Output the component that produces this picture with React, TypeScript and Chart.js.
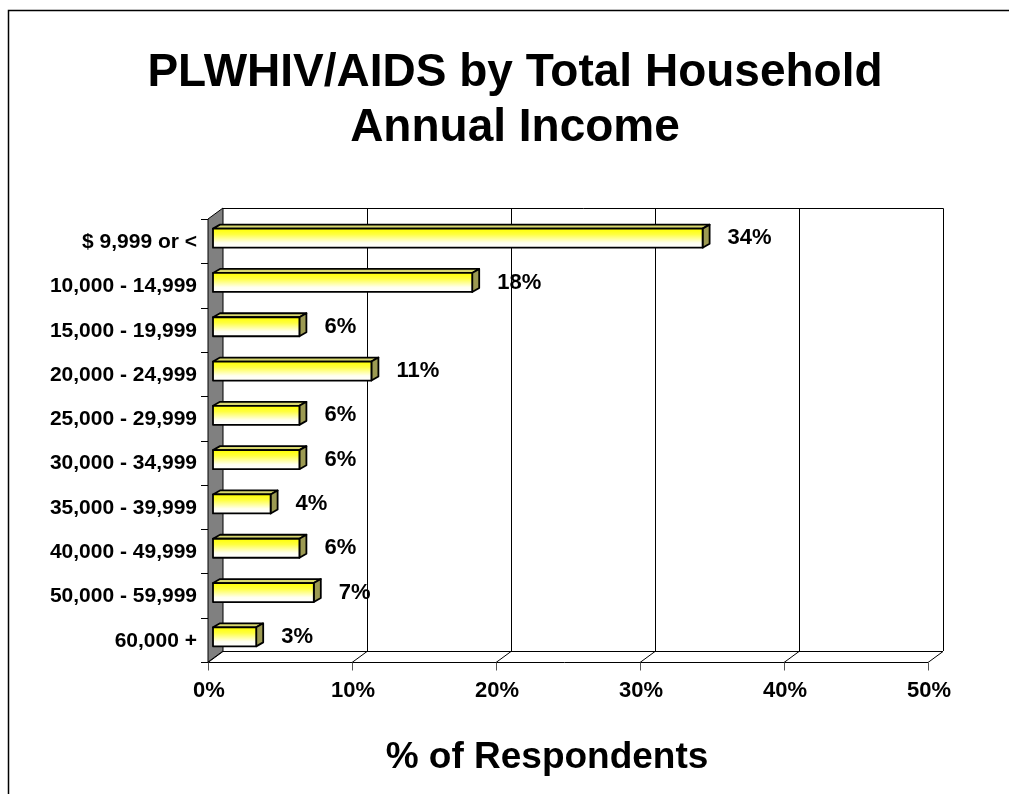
import React, { useEffect, useRef } from "react";
import { Chart, registerables } from "chart.js";

Chart.register(...registerables);

const categories = [
  "$ 9,999 or <",
  "10,000 - 14,999",
  "15,000 - 19,999",
  "20,000 - 24,999",
  "25,000 - 29,999",
  "30,000 - 34,999",
  "35,000 - 39,999",
  "40,000 - 49,999",
  "50,000 - 59,999",
  "60,000 +",
];
const percentValues = [34, 18, 6, 11, 6, 6, 4, 6, 7, 3];
const xTicks = [0, 10, 20, 30, 40, 50];
const xTickLabels = ["0%", "10%", "20%", "30%", "40%", "50%"];
const titleLines = ["PLWHIV/AIDS by Total Household", "Annual Income"];
const xAxisTitle = "% of Respondents";

const FONT = '"Liberation Sans", Arial, sans-serif';
const FRONT = { dx: -5, dy: 3 };
const BACK = { dx: 10, dy: -8 };
const BAR_D = { dx: 7, dy: 4 };

const decorPlugin = {
  id: "decor3d",
  beforeDraw(chart: any) {
    const { ctx, chartArea, scales } = chart;
    const xs = scales.x;
    const ys = scales.y;
    const W = chart.width;
    const H = chart.height;
    ctx.save();
    ctx.fillStyle = "#ffffff";
    ctx.fillRect(0, 0, W, H);
    // outer frame
    ctx.strokeStyle = "#000000";
    ctx.lineWidth = 1.5;
    ctx.beginPath();
    ctx.moveTo(8.5, H);
    ctx.lineTo(8.5, 10.5);
    ctx.lineTo(W, 10.5);
    ctx.stroke();

    const x0 = xs.getPixelForValue(0);
    const xMax = xs.getPixelForValue(50);
    const top = chartArea.top;
    const bottom = chartArea.bottom;

    // back wall
    ctx.lineWidth = 1;
    ctx.strokeStyle = "#000000";
    ctx.beginPath();
    ctx.moveTo(x0 + BACK.dx, top + BACK.dy + 0.5);
    ctx.lineTo(xMax + BACK.dx + 0.5, top + BACK.dy + 0.5);
    ctx.lineTo(xMax + BACK.dx + 0.5, bottom + BACK.dy);
    ctx.stroke();
    xTicks.forEach((t) => {
      if (t === 0 || t === 50) return;
      const px = Math.round(xs.getPixelForValue(t) + BACK.dx) + 0.5;
      ctx.beginPath();
      ctx.moveTo(px, top + BACK.dy);
      ctx.lineTo(px, bottom + BACK.dy);
      ctx.stroke();
    });

    // floor
    const fy = Math.round(bottom + FRONT.dy) + 0.5;
    const by = Math.round(bottom + BACK.dy) + 0.5;
    ctx.beginPath();
    ctx.moveTo(x0 + FRONT.dx - 7, fy);
    ctx.lineTo(xMax + FRONT.dx, fy);
    ctx.moveTo(x0 + BACK.dx, by);
    ctx.lineTo(xMax + BACK.dx, by);
    ctx.stroke();
    xTicks.forEach((t) => {
      const p = xs.getPixelForValue(t);
      ctx.strokeStyle = "#000000";
      ctx.beginPath();
      ctx.moveTo(p + FRONT.dx, fy);
      ctx.lineTo(p + BACK.dx, by);
      ctx.stroke();
      ctx.strokeStyle = "#555555";
      ctx.beginPath();
      ctx.moveTo(Math.round(p + FRONT.dx) + 0.5, fy);
      ctx.lineTo(Math.round(p + FRONT.dx) + 0.5, fy + 8);
      ctx.stroke();
    });

    // left side wall
    ctx.fillStyle = "#808080";
    ctx.strokeStyle = "#000000";
    ctx.beginPath();
    ctx.moveTo(x0 + FRONT.dx, top + FRONT.dy);
    ctx.lineTo(x0 + BACK.dx, top + BACK.dy);
    ctx.lineTo(x0 + BACK.dx, bottom + BACK.dy);
    ctx.lineTo(x0 + FRONT.dx, bottom + FRONT.dy);
    ctx.closePath();
    ctx.fill();
    ctx.stroke();

    // category tick marks
    const step = (bottom - top) / categories.length;
    ctx.strokeStyle = "#000000";
    for (let i = 0; i <= categories.length; i++) {
      const yy = Math.round(top + i * step + FRONT.dy) + 0.5;
      ctx.beginPath();
      ctx.moveTo(x0 + FRONT.dx - 7, yy);
      ctx.lineTo(x0 + FRONT.dx, yy);
      ctx.stroke();
    }

    // title
    ctx.fillStyle = "#000000";
    ctx.textAlign = "center";
    ctx.textBaseline = "middle";
    ctx.font = `bold 46px ${FONT}`;
    ctx.fillText(titleLines[0], 515, 73);
    ctx.fillText(titleLines[1], 515, 128);

    // category labels
    ctx.font = `bold 21px ${FONT}`;
    ctx.textAlign = "right";
    categories.forEach((c, i) => {
      const yy = ys.getPixelForValue(i) + FRONT.dy;
      ctx.fillText(c, x0 + FRONT.dx - 11, yy + 1);
    });

    // x tick labels
    ctx.font = `bold 22px ${FONT}`;
    ctx.textAlign = "center";
    xTicks.forEach((t, i) => {
      ctx.fillText(xTickLabels[i], xs.getPixelForValue(t) + FRONT.dx + 1, 691);
    });

    // axis title
    ctx.font = `bold 37px ${FONT}`;
    ctx.fillText(xAxisTitle, 547, 758);
    ctx.restore();
  },
  afterDatasetsDraw(chart: any) {
    const { ctx } = chart;
    const meta = chart.getDatasetMeta(0);
    ctx.save();
    meta.data.forEach((el: any, i: number) => {
      const { x, y, base, height } = el.getProps(["x", "y", "base", "height"], true);
      const l = base;
      const r = x;
      const t = y - height / 2;
      const b = y + height / 2;
      ctx.lineJoin = "round";
      ctx.lineWidth = 1.8;
      ctx.strokeStyle = "#000000";
      // top face
      ctx.fillStyle = "#d9d86e";
      ctx.beginPath();
      ctx.moveTo(l, t);
      ctx.lineTo(l + BAR_D.dx, t - BAR_D.dy);
      ctx.lineTo(r + BAR_D.dx, t - BAR_D.dy);
      ctx.lineTo(r, t);
      ctx.closePath();
      ctx.fill();
      ctx.stroke();
      // side face
      ctx.fillStyle = "#9c9a52";
      ctx.beginPath();
      ctx.moveTo(r, t);
      ctx.lineTo(r + BAR_D.dx, t - BAR_D.dy);
      ctx.lineTo(r + BAR_D.dx, b - BAR_D.dy);
      ctx.lineTo(r, b);
      ctx.closePath();
      ctx.fill();
      ctx.stroke();
      // front face
      const g = ctx.createLinearGradient(0, t, 0, b);
      g.addColorStop(0, "#ffff00");
      g.addColorStop(0.3, "#ffff40");
      g.addColorStop(0.75, "#fffff0");
      g.addColorStop(1, "#ffffff");
      ctx.fillStyle = g;
      ctx.beginPath();
      ctx.rect(l, t, r - l, b - t);
      ctx.fill();
      ctx.stroke();
      // value label
      ctx.fillStyle = "#000000";
      ctx.font = `bold 22px ${FONT}`;
      ctx.textAlign = "left";
      ctx.textBaseline = "middle";
      ctx.fillText(`${percentValues[i]}%`, r + BAR_D.dx + 18, y);
    });
    ctx.restore();
  },
};

export default function App() {
  const canvasRef = useRef<HTMLCanvasElement | null>(null);
  useEffect(() => {
    const canvas = canvasRef.current;
    if (!canvas) return;
    const chart = new Chart(canvas, {
      type: "bar",
      data: {
        labels: categories,
        datasets: [
          {
            data: percentValues,
            backgroundColor: "#ffff80",
            borderColor: "#000000",
            borderWidth: 0,
            barPercentage: 0.43,
            categoryPercentage: 1,
          },
        ],
      },
      options: {
        indexAxis: "y",
        animation: false,
        responsive: false,
        maintainAspectRatio: false,
        devicePixelRatio: 1,
        layout: { padding: { left: 213, right: 76, top: 216, bottom: 135 } },
        plugins: {
          legend: { display: false },
          title: { display: false },
          tooltip: { enabled: false },
        },
        scales: {
          x: { display: false, min: 0, max: 50 },
          y: { display: false },
        },
      },
      plugins: [decorPlugin],
    });
    return () => chart.destroy();
  }, []);
  return (
    <div style={{ position: "fixed", left: 0, top: 0, width: 1009, height: 794, background: "#fff" }}>
      <canvas ref={canvasRef} width={1009} height={794} style={{ display: "block", width: 1009, height: 794 }} />
    </div>
  );
}
